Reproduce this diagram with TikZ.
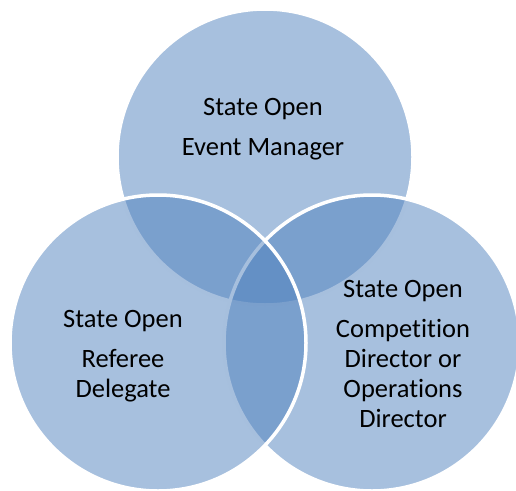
\documentclass[tikz,border=0pt]{standalone}
\usepackage{fontspec}
\setmainfont{Carlito}[Ligatures=NoCommon]
\usepackage{tikz}
\definecolor{vennblue}{HTML}{4F81BD}

\begin{document}
\begin{tikzpicture}[x=1pt,y=-1pt,
    venn/.style={circle,inner sep=0pt,minimum size=296pt,fill=vennblue,fill opacity=0.5,draw=white,draw opacity=1,line width=3.5pt},
    roletext/.style={anchor=base,align=center,text=black,font=\fontsize{26.5}{30}\selectfont}]
  \useasboundingbox (0,0) rectangle (516,490);
  % the three circles, left one on top
  \node[venn](manager) at (265,157){};
  \node[venn](director) at (372,343){};
  \node[venn](referee) at (158,343){};
  % texts (placed at the baseline of their last line)
  \node[roletext](managertext) at (263,155){State Open\\[10pt]Event Manager};
  \node[roletext](refereetext) at (123,397){State Open\\[10pt]Referee\\Delegate};
  \node[roletext](directortext) at (403,427){State Open\\[10pt]Competition\\Director or\\Operations\\Director};
\end{tikzpicture}
\end{document}
